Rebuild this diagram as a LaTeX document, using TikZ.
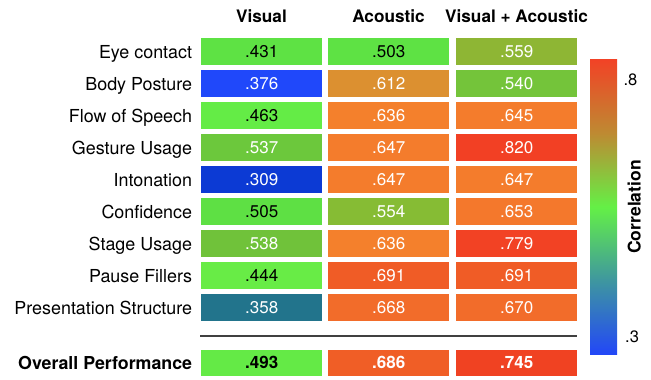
\documentclass[tikz,border=0pt]{standalone}
\usepackage{fontspec}
\setmainfont{TeX Gyre Heros}
% cell colours
\definecolor{vA}{RGB}{94,226,68}
\definecolor{vB}{RGB}{32,72,250}
\definecolor{vC}{RGB}{100,236,70}
\definecolor{vD}{RGB}{108,200,60}
\definecolor{vE}{RGB}{12,58,212}
\definecolor{vF}{RGB}{94,224,68}
\definecolor{vG}{RGB}{112,194,58}
\definecolor{vH}{RGB}{104,236,70}
\definecolor{vI}{RGB}{34,116,140}
\definecolor{vJ}{RGB}{100,234,70}
\definecolor{aA}{RGB}{94,226,68}
\definecolor{aB}{RGB}{220,144,48}
\definecolor{aC}{RGB}{244,128,44}
\definecolor{aD}{RGB}{244,124,44}
\definecolor{aE}{RGB}{244,124,44}
\definecolor{aF}{RGB}{134,188,52}
\definecolor{aG}{RGB}{244,128,44}
\definecolor{aH}{RGB}{240,92,38}
\definecolor{aI}{RGB}{242,108,42}
\definecolor{aJ}{RGB}{240,94,38}
\definecolor{bA}{RGB}{142,182,52}
\definecolor{bB}{RGB}{116,196,58}
\definecolor{bC}{RGB}{244,124,44}
\definecolor{bD}{RGB}{242,64,36}
\definecolor{bE}{RGB}{244,124,44}
\definecolor{bF}{RGB}{244,120,44}
\definecolor{bG}{RGB}{242,66,36}
\definecolor{bH}{RGB}{240,92,38}
\definecolor{bI}{RGB}{242,108,42}
\definecolor{bJ}{RGB}{240,66,34}
\definecolor{sepgray}{RGB}{64,64,64}
% colour bar
\definecolor{cbBlue}{RGB}{34,70,248}
\definecolor{cbTeal}{RGB}{62,150,160}
\definecolor{cbGreen}{RGB}{100,240,70}
\definecolor{cbBrown}{RGB}{190,138,50}
\definecolor{cbRed}{RGB}{242,66,38}
\pgfdeclareverticalshading{cbarshade}{100bp}{color(0bp)=(cbBlue); color(25bp)=(cbBlue); color(37.5bp)=(cbTeal); color(50bp)=(cbGreen); color(62.5bp)=(cbBrown); color(75bp)=(cbRed); color(100bp)=(cbRed)}
\begin{document}
\begin{tikzpicture}[x=1bp,y=-1bp,
  cellbox/.style={minimum width=121bp, minimum height=26.7bp, inner sep=0pt, anchor=north west,
    font=\fontsize{17bp}{19bp}\selectfont, text=white},
  dk/.style={text=black},
  boldcell/.style={font=\fontsize{17bp}{19bp}\selectfont\bfseries},
  lbl/.style={anchor=base east, inner sep=0pt, font=\fontsize{17.9bp}{20bp}\selectfont},
  boldlbl/.style={anchor=base east, inner sep=0pt, font=\fontsize{17.8bp}{20bp}\selectfont\bfseries},
  hdr/.style={anchor=base, inner sep=0pt, font=\fontsize{17.2bp}{20bp}\selectfont\bfseries},
  tick/.style={anchor=base west, inner sep=0pt, font=\fontsize{16.5bp}{18bp}\selectfont}]
\useasboundingbox (0,0) rectangle (651,379);

% headers
\node[hdr] (hV) at (261.5,22.7) {Visual};
\node[hdr] (hA) at (388.5,22.7) {Acoustic};
\node[hdr] (hB) at (516.5,22.7) {Visual + Acoustic};

% row labels
\node[lbl] (l1) at (192.3,58.3) {Eye contact};
\node[lbl] (l2) at (192.3,90.3) {Body Posture};
\node[lbl] (l3) at (192.3,122.3) {Flow of Speech};
\node[lbl] (l4) at (192.3,154.3) {Gesture Usage};
\node[lbl] (l5) at (192.3,186.3) {Intonation};
\node[lbl] (l6) at (192.3,218.3) {Confidence};
\node[lbl] (l7) at (192.3,250.3) {Stage Usage};
\node[lbl] (l8) at (192.3,282.3) {Pause Fillers};
\node[lbl] (l9) at (192.3,314.3) {Presentation Structure};
\node[boldlbl] (l10) at (192.3,369.6) {Overall Performance};

% Visual column
\node[cellbox, fill=vA, dk] (v1) at (201,38) {.431};
\node[cellbox, fill=vB] (v2) at (201,70) {.376};
\node[cellbox, fill=vC, dk] (v3) at (201,102) {.463};
\node[cellbox, fill=vD] (v4) at (201,134) {.537};
\node[cellbox, fill=vE] (v5) at (201,166) {.309};
\node[cellbox, fill=vF, dk] (v6) at (201,198) {.505};
\node[cellbox, fill=vG] (v7) at (201,230) {.538};
\node[cellbox, fill=vH, dk] (v8) at (201,262) {.444};
\node[cellbox, fill=vI] (v9) at (201,294) {.358};
\node[cellbox, boldcell, fill=vJ, dk] (v10) at (201,349.3) {.493};

% Acoustic column
\node[cellbox, fill=aA, dk] (a1) at (328,38) {.503};
\node[cellbox, fill=aB] (a2) at (328,70) {.612};
\node[cellbox, fill=aC] (a3) at (328,102) {.636};
\node[cellbox, fill=aD] (a4) at (328,134) {.647};
\node[cellbox, fill=aE] (a5) at (328,166) {.647};
\node[cellbox, fill=aF] (a6) at (328,198) {.554};
\node[cellbox, fill=aG] (a7) at (328,230) {.636};
\node[cellbox, fill=aH] (a8) at (328,262) {.691};
\node[cellbox, fill=aI] (a9) at (328,294) {.668};
\node[cellbox, boldcell, fill=aJ] (a10) at (328,349.3) {.686};

% Visual + Acoustic column
\node[cellbox, fill=bA] (b1) at (456,38) {.559};
\node[cellbox, fill=bB] (b2) at (456,70) {.540};
\node[cellbox, fill=bC] (b3) at (456,102) {.645};
\node[cellbox, fill=bD] (b4) at (456,134) {.820};
\node[cellbox, fill=bE] (b5) at (456,166) {.647};
\node[cellbox, fill=bF] (b6) at (456,198) {.653};
\node[cellbox, fill=bG] (b7) at (456,230) {.779};
\node[cellbox, fill=bH] (b8) at (456,262) {.691};
\node[cellbox, fill=bI] (b9) at (456,294) {.670};
\node[cellbox, boldcell, fill=bJ] (b10) at (456,349.3) {.745};

% separator
\coordinate (sepL) at (200,335.7);
\coordinate (sepR) at (577,335.7);
\draw[line width=1.6bp, sepgray] (sepL) -- (sepR);

% colour bar
\node[shade, shading=cbarshade, minimum width=27bp, minimum height=295.7bp, inner sep=0pt, anchor=north west] (cbar) at (590,59) {};
\node[tick] (t8) at (623.3,85) {.8};
\node[tick] (t3) at (625,342.7) {.3};
\node[anchor=base, inner sep=0pt, rotate=90, font=\fontsize{17.5bp}{20bp}\selectfont\bfseries] (corr) at (640.7,207) {Correlation};
\end{tikzpicture}
\end{document}
